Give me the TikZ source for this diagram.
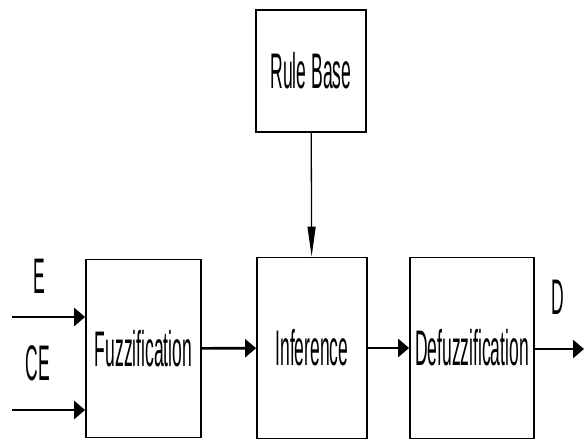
\documentclass[tikz,border=0pt]{standalone}
\usepackage{fontspec}
\setmainfont{Liberation Sans}
\usepackage{graphicx}
\usetikzlibrary{arrows.meta}

\newcommand{\narrowtext}[1]{\scalebox{0.35}[1]{#1}}

\begin{document}
\begin{tikzpicture}[x=1pt,y=-1pt]
				\tikzstyle{block}=[draw=black,line width=1.8pt,inner sep=0pt,font=\fontsize{50}{55}\selectfont]
				\tikzstyle{label}=[inner sep=0pt,font=\fontsize{50}{55}\selectfont]
				\tikzstyle{flow}=[line width=2.6pt,-{Triangle[length=11pt,width=18pt]}]
				\useasboundingbox (0,0) rectangle (587,442);
				\node[block,minimum width=110pt,minimum height=122pt](rule) at (311,71){\narrowtext{Rule Base}};
				\node[block,minimum width=115pt,minimum height=178pt](fuzz) at (143.5,348.5){\narrowtext{Fuzzification}};
				\node[block,minimum width=110pt,minimum height=181pt](inf) at (312,348){\narrowtext{Inference}};
				\node[block,minimum width=124pt,minimum height=181pt](defuzz) at (472,348){\narrowtext{Defuzzification}};
				\coordinate (e) at (12,317);
				\coordinate (ce) at (12,410);
				\coordinate (out) at (584,349);
				\node[label](elab) at (39,276){\narrowtext{E}};
				\node[label](celab) at (38,363){\narrowtext{CE}};
				\node[label](dlab) at (558,297){\narrowtext{D}};
				\draw[flow] (e) -- (e -| fuzz.west);
				\draw[flow] (ce) -- (ce -| fuzz.west);
				\path[flow]
					(fuzz) edge (inf)
					(inf) edge (defuzz);
				\draw[flow] (defuzz.east |- out) -- (out);
				\draw[line width=1.3pt,-{Triangle[length=30pt,width=8pt]}] (rule) -- (inf);
			\end{tikzpicture}
\end{document}
